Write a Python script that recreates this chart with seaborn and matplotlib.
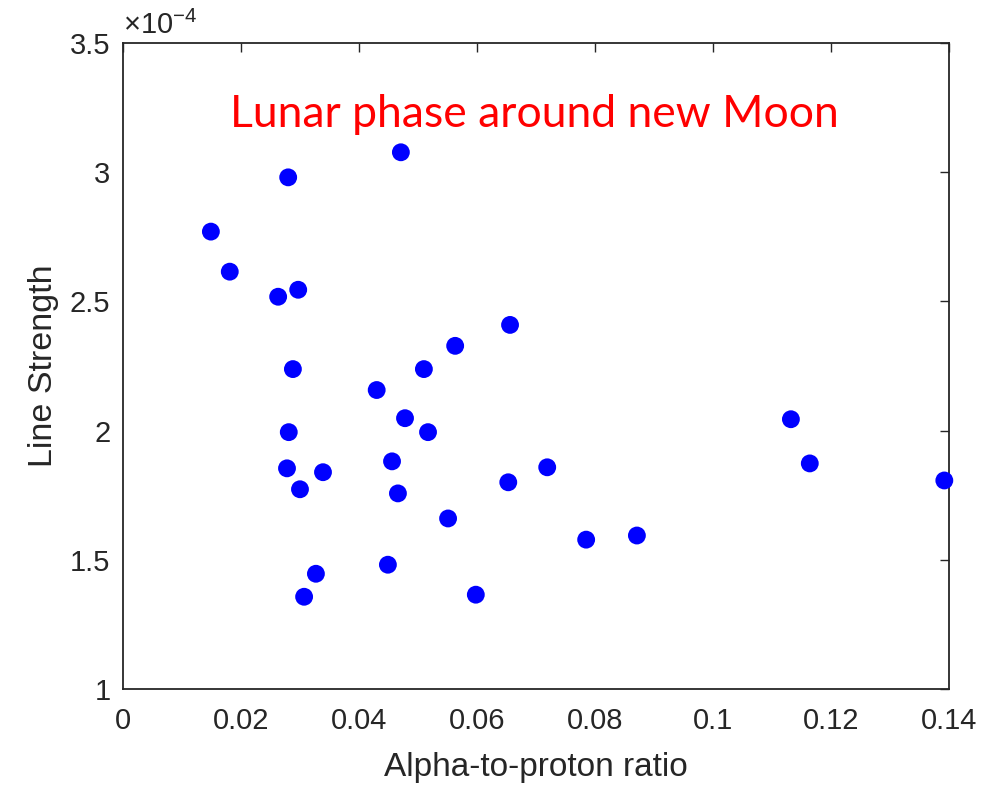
import matplotlib
matplotlib.use("Agg")
import matplotlib.pyplot as plt
import numpy as np
import pandas as pd
import seaborn as sns
from matplotlib.ticker import FuncFormatter

# Values
alpha_ratio = [
    0.0149, 0.0181, 0.0280, 0.0263, 0.0297, 0.0288, 0.0281, 0.0278,
    0.0300, 0.0339, 0.0327, 0.0307, 0.0471, 0.0430, 0.0478, 0.0456,
    0.0466, 0.0449, 0.0510, 0.0517, 0.0563, 0.0551, 0.0598, 0.0656,
    0.0653, 0.0719, 0.0785, 0.0871, 0.1132, 0.1164, 0.1392,
]
line_strength_e4 = [
    2.770, 2.615, 2.980, 2.518, 2.545, 2.238, 1.994, 1.854,
    1.773, 1.839, 1.446, 1.357, 3.077, 2.157, 2.048, 1.881,
    1.757, 1.481, 2.238, 1.994, 2.328, 1.660, 1.365, 2.409,
    1.800, 1.858, 1.578, 1.594, 2.044, 1.873, 1.807,
]
x_ticks = [0, 0.02, 0.04, 0.06, 0.08, 0.1, 0.12, 0.14]
y_ticks_e4 = [1, 1.5, 2, 2.5, 3, 3.5]

df = pd.DataFrame({
    "alpha": alpha_ratio,
    "strength": np.array(line_strength_e4) * 1e-4,
})

sns.set_theme(style="white")
plt.rcParams["font.family"] = ["Liberation Sans", "DejaVu Sans"]
plt.rcParams["mathtext.fontset"] = "custom"
plt.rcParams["mathtext.rm"] = "Liberation Sans"
plt.rcParams["mathtext.it"] = "Liberation Sans"

fig = plt.figure(figsize=(10.03, 7.87), dpi=100)
ax = fig.add_axes([0.1226, 0.1245, 0.8236, 0.8209])

sns.scatterplot(data=df, x="alpha", y="strength", color="#0000ff",
                s=165, edgecolor="none", ax=ax, clip_on=False, zorder=3)

ax.set_xlim(x_ticks[0], x_ticks[-1])
ax.set_ylim(y_ticks_e4[0] * 1e-4, y_ticks_e4[-1] * 1e-4)
ax.set_xticks(x_ticks)
ax.set_yticks([v * 1e-4 for v in y_ticks_e4])
ax.xaxis.set_major_formatter(FuncFormatter(lambda v, p: f"{v:g}"))
ax.yaxis.set_major_formatter(FuncFormatter(lambda v, p: f"{v * 1e4:g}"))

dark = "#262626"
for sp in ax.spines.values():
    sp.set_color(dark)
    sp.set_linewidth(1.3)
ax.tick_params(direction="in", length=6.5, width=1.0, colors=dark,
               labelsize=21, top=True, right=True, pad=9)
ax.tick_params(axis="x", pad=13)

ax.set_xlabel("Alpha-to-proton ratio", fontsize=24, color=dark, labelpad=12)
ax.set_ylabel("Line Strength", fontsize=24.5, color=dark, labelpad=8)

ax.text(0.0, 1.005, r"$\times 10^{-4}$", transform=ax.transAxes,
        fontsize=21, color=dark, ha="left", va="bottom")

ax.text(0.4976, 0.889, "Lunar phase around new Moon", transform=ax.transAxes,
        fontsize=32, color="red", ha="center", va="center",
        family=["Lato", "DejaVu Sans"])

fig.savefig("out.png", dpi=100)
plt.close(fig)
